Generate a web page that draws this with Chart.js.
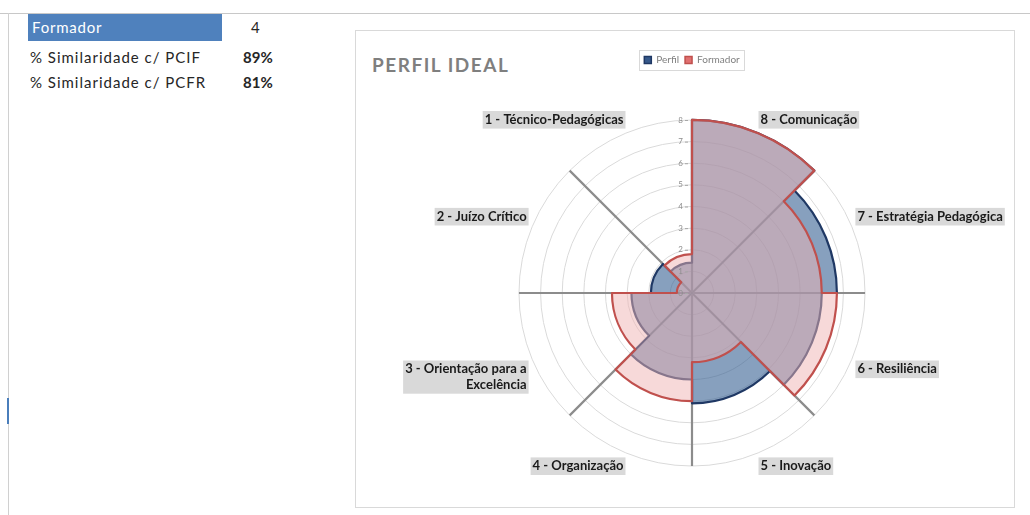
<!DOCTYPE html>
<html>
<head>
<meta charset="utf-8">
<script src="https://cdn.jsdelivr.net/npm/chart.js@4/dist/chart.umd.min.js"></script>
<style>
  body { margin: 0; width: 1030px; height: 515px; background: #fff; font-family: Lato, sans-serif; position: relative; overflow: hidden; }
  #linhaTopo { position: absolute; left: 0; top: 13px; width: 1030px; height: 1px; background: #c8c8c8; }
  #linhaEsq { position: absolute; left: 8px; top: 13px; width: 1px; height: 502px; background: #d0d0d0; }
  #marcaEsq { position: absolute; left: 7px; top: 398px; width: 2px; height: 26px; background: #4a7ebb; }
  .cel { position: absolute; font-size: 15px; color: #262626; line-height: 20px; letter-spacing: 1px; }
  #cab { left: 28px; top: 14px; width: 190px; height: 27px; line-height: 27px; background: #4f81bd; color: #fff; padding-left: 4px; letter-spacing: 0.8px; }
  #box { position: absolute; left: 355px; top: 30px; width: 658px; height: 476px; border: 1px solid #d9d9d9; }
  #titulo { position: absolute; left: 16px; top: 22px; font-size: 19px; font-weight: bold; color: #7f7f7f; letter-spacing: 1.5px; }
  canvas { position: absolute; left: 0; top: 0; }
</style>
</head>
<body>
<div id="linhaTopo"></div>
<div id="linhaEsq"></div>
<div id="marcaEsq"></div>
<div class="cel" id="cab">Formador</div>
<div class="cel" style="left:251px;top:17px;">4</div>
<div class="cel" style="left:30px;top:47px;">% Similaridade c/ PCIF</div>
<div class="cel" style="left:243px;top:47px;font-weight:bold;letter-spacing:0;">89%</div>
<div class="cel" style="left:30px;top:72px;">% Similaridade c/ PCFR</div>
<div class="cel" style="left:243px;top:72px;font-weight:bold;letter-spacing:0;">81%</div>

<div id="box">
  <div id="titulo">PERFIL IDEAL</div>
  <canvas id="grafico" width="658" height="476"></canvas>
</div>

<script>
// competencias, no sentido dos ponteiros a partir do topo
const categorias = [
  "8 - Comunicação",
  "7 - Estratégia Pedagógica",
  "6 - Resiliência",
  "5 - Inovação",
  "4 - Organização",
  ["3 - Orientação para a", "Excelência"],
  "2 - Juízo Crítico",
  "1 - Técnico-Pedagógicas"
];
const perfil = [8, 6.7, 6.0, 5.1, 4.0, 2.8, 1.9, 1.4];
const formador = [8, 6.0, 6.7, 3.2, 5.0, 3.7, 0.7, 1.8];
const escalaMin = 0;
const escalaMax = 8;

// contorno exterior de cada serie (so o envelope, como no excel)
const contorno = {
  id: "contorno",
  afterDatasetDraw(chart, args) {
    const ds = chart.data.datasets[args.index];
    const ctx = chart.ctx;
    ctx.save();
    ctx.beginPath();
    args.meta.data.forEach((arco, i) => {
      const p = arco.getProps(["x", "y", "startAngle", "endAngle", "outerRadius"], true);
      const sx = p.x + Math.cos(p.startAngle) * p.outerRadius;
      const sy = p.y + Math.sin(p.startAngle) * p.outerRadius;
      if (i === 0) ctx.moveTo(sx, sy);
      else ctx.lineTo(sx, sy);
      ctx.arc(p.x, p.y, p.outerRadius, p.startAngle, p.endAngle);
    });
    ctx.closePath();
    ctx.lineWidth = 2.2;
    ctx.lineJoin = "round";
    ctx.strokeStyle = ds.corContorno;
    ctx.stroke();
    ctx.restore();
  }
};

// numeros do eixo ao lado da linha vertical
const rotulosEixo = {
  id: "rotulosEixo",
  afterDatasetsDraw(chart) {
    const sc = chart.scales.r;
    const ctx = chart.ctx;
    ctx.save();
    ctx.font = "8px Lato";
    ctx.fillStyle = "#8c8c8c";
    ctx.strokeStyle = "#a6a6a6";
    ctx.lineWidth = 1;
    ctx.textAlign = "right";
    ctx.textBaseline = "middle";
    sc.ticks.forEach((t) => {
      const y = sc.yCenter - sc.getDistanceFromCenterForValue(t.value);
      ctx.fillText(t.label, sc.xCenter - 9, y);
      ctx.beginPath();
      ctx.moveTo(sc.xCenter - 7, y + 0.5);
      ctx.lineTo(sc.xCenter - 4, y + 0.5);
      ctx.stroke();
    });
    ctx.restore();
  }
};

// moldura fina a volta da legenda
const molduraLegenda = {
  id: "molduraLegenda",
  afterDraw(chart) {
    const caixas = chart.legend.legendHitBoxes;
    if (!caixas.length) return;
    const x0 = Math.min(...caixas.map((c) => c.left)) - 5;
    const x1 = Math.max(...caixas.map((c) => c.left + c.width)) + 5;
    const y0 = Math.min(...caixas.map((c) => c.top)) - 5;
    const y1 = Math.max(...caixas.map((c) => c.top + c.height)) + 5;
    const ctx = chart.ctx;
    ctx.save();
    ctx.strokeStyle = "#d9d9d9";
    ctx.lineWidth = 1;
    ctx.strokeRect(Math.round(x0) + 0.5, Math.round(y0) + 0.5, Math.round(x1 - x0), Math.round(y1 - y0));
    ctx.restore();
  }
};

// mais espaco entre a legenda e o grafico
const espacoLegenda = {
  id: "espacoLegenda",
  beforeInit(chart) {
    const fitOrig = chart.legend.fit;
    chart.legend.fit = function () {
      fitOrig.bind(chart.legend)();
      this.height += 38;
    };
  }
};

new Chart(document.getElementById("grafico"), {
  type: "polarArea",
  data: {
    labels: categorias,
    datasets: [
      {
        label: "Perfil",
        data: perfil,
        backgroundColor: "rgba(55,96,146,0.6)",
        borderWidth: 0,
        corContorno: "#1f3864",
        corLegenda: "#36588a",
        order: 1
      },
      {
        label: "Formador",
        data: formador,
        backgroundColor: "rgba(240,180,180,0.5)",
        borderWidth: 0,
        corContorno: "#c0504d",
        corLegenda: "#e07070",
        order: 0
      }
    ]
  },
  options: {
    responsive: false,
    animation: false,
    layout: { padding: { left: 14, right: 0, top: 18, bottom: 32 } },
    scales: {
      r: {
        min: escalaMin,
        max: escalaMax,
        ticks: { display: false, stepSize: 1 },
        grid: { circular: true, color: "#dadada", lineWidth: 1 },
        angleLines: { display: true, color: "#8c8c8c", lineWidth: 2.2 },
        pointLabels: {
          display: true,
          centerPointLabels: true,
          padding: 6,
          color: "#1a1a1a",
          backdropColor: "#d9d9d9",
          backdropPadding: { top: 1, bottom: 1, left: 2, right: 2 },
          font: { family: "Lato", weight: "bold", size: 13 }
        }
      }
    },
    plugins: {
      tooltip: { enabled: false },
      legend: {
        display: true,
        position: "top",
        labels: {
          boxWidth: 7,
          boxHeight: 7,
          padding: 6,
          color: "#7f7f7f",
          font: { family: "Lato", size: 10 },
          generateLabels: (chart) =>
            chart.data.datasets.map((d, i) => ({
              text: d.label,
              fillStyle: d.corLegenda,
              strokeStyle: d.corContorno,
              lineWidth: 1.5,
              fontColor: "#7f7f7f",
              hidden: false,
              datasetIndex: i
            }))
        }
      }
    }
  },
  plugins: [contorno, rotulosEixo, molduraLegenda, espacoLegenda]
});
</script>
</body>
</html>
